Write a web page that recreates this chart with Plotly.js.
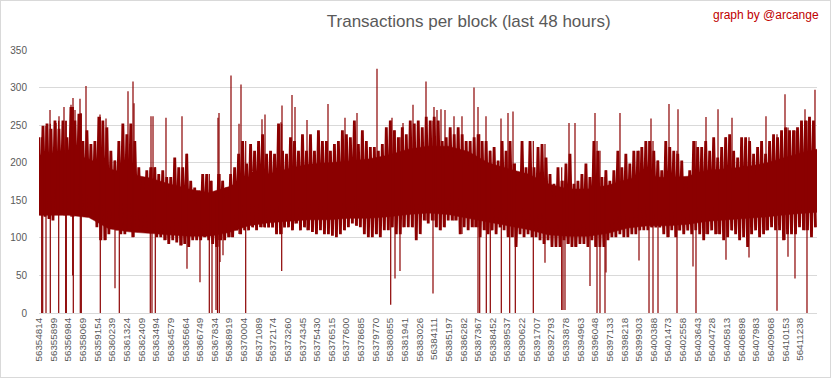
<!DOCTYPE html>
<html>
<head>
<meta charset="utf-8">
<script src="https://cdn.plot.ly/plotly-3.0.1.min.js"></script>
<style>
  html, body { margin: 0; padding: 0; background: #ffffff; }
  #wrap { position: relative; width: 833px; height: 379px; }
  #chart { width: 833px; height: 379px; }
  #frame { position: absolute; left: 0; top: 0; width: 831px; height: 378px; box-sizing: border-box;
           border: 1px solid #d9d9d9; pointer-events: none; }
</style>
</head>
<body>
<div id="wrap"><div id="chart"></div><div id="frame"></div></div>
<script>
// ---- data ----
const BLOCK_START = 56354814;
const BLOCK_STEP = 296;          // one fringe slice
const CORE_STEP = 1480;          // one core slice
const BLOCK_SPAN = 57685;

// fringe: typical upper / lower reach of the blocks in each 296-block slice
const colHigh = [
  234,249,252,245,256,245,256,234,274,256,265,229,243,225,229,261,256,247,216,203,
  229,252,238,252,229,194,181,190,194,194,185,190,181,181,207,194,194,212,176,
  167,163,185,185,176,159,185,176,167,185,194,212,229,199,225,216,229,238,212,216,
  212,252,216,212,234,229,216,238,216,238,216,243,229,229,216,225,229,243,238,
  234,256,225,243,229,221,221,216,225,247,256,243,234,247,238,256,252,256,247,261,
  256,261,256,229,234,247,238,247,238,229,229,234,238,229,229,216,221,203,229,
  216,229,199,185,229,194,229,194,221,225,207,185,172,194,176,199,212,172,176,185,
  199,181,229,216,181,190,176,190,216,194,212,199,216,216,221,229,229,216,203,
  190,229,221,216,212,203,176,190,229,221,221,229,216,234,207,221,234,238,216,207,
  234,234,229,212,221,229,212,229,238,234,243,247,243,243,247,256,256,261,256
];
const colLow = [
  130,128,125,123,132,132,130,134,128,134,136,128,130,125,114,97,97,105,114,110,
  105,105,110,101,114,110,114,108,108,101,101,97,92,97,94,90,92,88,97,
  97,97,101,97,92,88,97,97,101,101,110,105,110,110,114,110,114,114,114,114,
  105,105,114,114,110,119,110,114,110,108,105,110,105,105,103,101,105,110,114,
  119,116,114,105,101,101,105,101,110,110,114,105,105,114,114,114,97,105,123,119,
  123,114,110,114,123,123,123,105,114,110,114,114,101,110,105,110,105,114,110,
  101,101,88,105,101,105,101,101,97,92,97,88,88,88,97,92,88,88,92,92,
  88,97,88,88,88,97,101,101,105,101,101,105,105,110,110,110,114,114,114,
  105,101,110,101,110,105,110,105,110,105,97,105,110,105,105,97,101,110,105,97,
  101,88,105,110,101,105,110,114,110,110,97,105,105,105,114,110,110,101,114
];

// core: range covered by nearly every block in each 1480-block slice
const coreHigh = [
  210,212,205,192,185,180,172,165,160,168,180,185,192,198,200,202,205,210,218,222,
  222,215,200,192,185,172,165,165,170,178,182,180,182,190,192,195,200,208,218
];
const coreLow = [
  130,130,127,112,108,106,104,102,102,107,116,120,122,124,124,126,126,128,131,133,
  131,126,121,116,111,104,102,102,106,113,116,116,118,122,124,126,128,131,134
];

// isolated tall blocks
const spikeUpBlocks = [
  56355630,56356074,56356297,56356668,56357187,56357335,56357483,56357854,56357928,56358299,
  56359337,56359782,56361413,56361784,56361858,56363118,56363267,56364230,56365417,56368086,
  56368160,56369050,56369643,56369791,56371348,56371571,56372757,56372831,56373573,56373795,
  56374685,56376242,56377502,56378392,56379875,56380987,56381803,56382544,56383508,56384101,
  56384324,56384620,56384917,56385584,56386177,56387067,56387364,56387957,56389069,56389588,
  56389959,56394111,56394556,56396039,56397892,56400191,56401525,56402193,56404269,56405159,
  56406197,56408717,56410126,56411609,56412350
];
const spikeUpValues = [
  270,253,262,274,277,286,270,285,266,302,
  264,259,295,308,279,262,262,260,262,260,
  266,316,252,304,258,264,254,276,290,274,
  257,278,260,266,325,260,253,277,308,274,
  270,271,270,262,262,300,274,262,259,266,
  268,253,253,266,266,259,278,271,261,271,
  260,262,291,271,297
];

// isolated low blocks
const spikeDownBlocks = [
  56355014,56355088,56355333,56355652,56356275,56356794,56356838,56357313,56357357,56357876,
  56357950,56359359,56360449,56360768,56363066,56363192,56363437,56365787,56366751,56367441,
  56367641,56367938,56368049,56368182,56368234,56368457,56370140,56372809,56380891,56381210,
  56381580,56384027,56387364,56387490,56387979,56388276,56389092,56389714,56390130,56391464,
  56392331,56393570,56393666,56393814,56395668,56396187,56396409,56396780,56396854,56399301,
  56400043,56400339,56400710,56402119,56403305,56403527,56405751,56407457,56409533,56410348,
  56410867,56411757
];
const spikeDownValues = [
  0,0,0,0,0,0,0,50,0,0,
  0,0,33,0,0,0,0,59,41,0,
  0,4,0,0,68,77,0,56,11,46,
  56,26,0,0,0,0,0,0,0,0,
  67,4,4,4,36,0,0,0,54,70,
  0,0,0,0,62,0,71,74,3,75,
  46,0
];

const tickBlocks = [
  56354814,56355899,56356984,56358069,56359154,56360239,56361324,56362409,56363494,56364579,
  56365664,56366749,56367834,56368919,56370004,56371089,56372174,56373260,56374345,56375430,
  56376515,56377600,56378685,56379770,56380855,56381941,56383026,56384111,56385197,56386282,
  56387367,56388452,56389537,56390622,56391707,56392793,56393878,56394963,56396048,56397133,
  56398218,56399303,56400388,56401473,56402558,56403643,56404728,56405813,56406898,56407983,
  56409068,56410153,56411238
];

const yTicks = [0, 50, 100, 150, 200, 250, 300, 350];

// ---- build traces ----
const RED = '#8b0000';

// solid core polygon
const coreX = coreHigh.map((_, i) => BLOCK_START + i * CORE_STEP + CORE_STEP / 2);
coreX[0] = BLOCK_START; coreX[coreX.length - 1] = BLOCK_START + BLOCK_SPAN;
const corePolyX = coreX.concat(coreX.slice().reverse());
const corePolyY = coreHigh.concat(coreLow.slice().reverse());

// fringe zig-zag
const zigX = [], zigY = [];
for (let i = 0; i < colHigh.length; i++) {
  const b = BLOCK_START + i * BLOCK_STEP;
  zigX.push(b, b + BLOCK_STEP / 2);
  zigY.push(colHigh[i], colLow[i]);
}

function colOf(block) {
  return Math.max(0, Math.min(colHigh.length - 1, Math.floor((block - BLOCK_START) / BLOCK_STEP)));
}
const spX = [], spY = [];
spikeUpBlocks.forEach((b, k) => { spX.push(b, b, null); spY.push(colLow[colOf(b)], spikeUpValues[k], null); });
spikeDownBlocks.forEach((b, k) => { spX.push(b, b, null); spY.push(colHigh[colOf(b)], spikeDownValues[k], null); });

const traces = [
  { type: 'scatter', mode: 'lines', x: corePolyX, y: corePolyY, fill: 'toself', fillcolor: RED,
    line: { color: RED, width: 0.5, simplify: false }, hoverinfo: 'skip' },
  { type: 'scatter', mode: 'lines', x: zigX, y: zigY,
    line: { color: RED, width: 2.8, simplify: false }, hoverinfo: 'skip' },
  { type: 'scatter', mode: 'lines', x: spX, y: spY,
    line: { color: RED, width: 1.2, simplify: false }, connectgaps: false, hoverinfo: 'skip' }
];

const FONT = 'Liberation Sans, Arial, sans-serif';
const layout = {
  width: 833, height: 379,
  margin: { l: 39, r: 16, t: 50, b: 66, pad: 0 },
  paper_bgcolor: '#ffffff', plot_bgcolor: '#ffffff',
  showlegend: false,
  title: {
    text: 'Transactions per block (last 48 hours)',
    font: { family: FONT, size: 17, color: '#595959' },
    xref: 'container', yref: 'container', x: 468.7 / 833, y: 1 - 21 / 379,
    xanchor: 'center', yanchor: 'middle'
  },
  xaxis: {
    type: 'linear',
    range: [BLOCK_START, BLOCK_START + BLOCK_SPAN],
    tickmode: 'array', tickvals: tickBlocks, ticktext: tickBlocks.map(String),
    tickangle: -90, ticks: '', showgrid: false, zeroline: false,
    showline: true, linecolor: '#d9d9d9', linewidth: 1,
    tickfont: { family: FONT, size: 9.8, color: '#595959' }
  },
  yaxis: {
    range: [0, 350], tickmode: 'array', tickvals: yTicks, ticktext: yTicks.map(String),
    ticks: '', showgrid: true, gridcolor: '#d9d9d9', gridwidth: 1, zeroline: false, showline: false,
    ticklabelstandoff: 11,
    tickfont: { family: FONT, size: 10, color: '#595959' }
  },
  annotations: [{
    text: 'graph by @arcange', showarrow: false,
    xref: 'paper', yref: 'paper', x: (821.3 - 39) / 778, y: (313 - 15) / 263,
    xanchor: 'right', yanchor: 'middle',
    font: { family: FONT, size: 12, color: '#c00000' }
  }]
};

Plotly.newPlot('chart', traces, layout, { staticPlot: true, displayModeBar: false });
</script>
</body>
</html>
